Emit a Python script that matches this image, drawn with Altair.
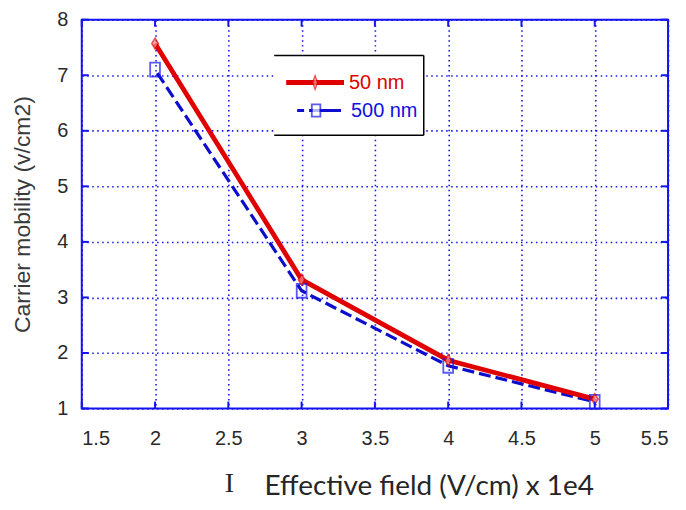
import altair as alt
import pandas as pd

# ---- data ----
field = [2, 3, 4, 5]
mob_50nm = [7.57, 3.32, 1.87, 1.17]
mob_500nm = [7.10, 3.12, 1.77, 1.12]
series = ["50 nm", "500 nm"]
x_ticks = [1.5, 2, 2.5, 3, 3.5, 4, 4.5, 5, 5.5]
y_ticks = [1, 2, 3, 4, 5, 6, 7, 8]
x_title = "Effective field (V/cm) x 1e4"
y_title = "Carrier mobility (v/cm2)"
stray_glyph = "I"

W, H = 588, 390
BLUE = "#1414f0"
RED = "#e00000"
DBLUE = "#0d0dcc"

df = pd.DataFrame({
    "field": field * 2,
    "mobility": mob_50nm + mob_500nm,
    "series": [series[0]] * len(field) + [series[1]] * len(field),
})
d50 = df[df.series == series[0]]
d500 = df[df.series == series[1]]
xt = pd.DataFrame({"tx": x_ticks})
yt = pd.DataFrame({"ty": y_ticks})

xs = alt.Scale(domain=[1.5, 5.5], nice=False, zero=False)
ys = alt.Scale(domain=[1, 8], nice=False, zero=False)

x_axis = alt.Axis(
    values=x_ticks, format="~g", title=x_title, grid=True, ticks=False, domain=False,
    labelPadding=20, labelFontSize=20, labelFont="Liberation Sans", labelColor="#2a2a2a",
    titleFont="Lato", titleFontSize=28, titleFontWeight="normal", titleColor="#262626",
    titleX=348, titleY=86, titleBaseline="alphabetic", titleAlign="center",
)
y_axis = alt.Axis(
    values=y_ticks, grid=True, ticks=False, domain=False,
    labelPadding=14, labelFontSize=20, labelFont="Liberation Sans", labelColor="#2a2a2a",
    title=y_title, titleFont="Liberation Sans", titleFontSize=23, titleFontWeight="normal",
    titleColor="#3a3a3a", titleX=-47, titleY=H / 2, titleAngle=270, titleBaseline="bottom",
    titleAlign="center",
)


def X(f="field"):
    return alt.X(f"{f}:Q", scale=xs, axis=x_axis)


def Y(f="mobility"):
    return alt.Y(f"{f}:Q", scale=ys, axis=y_axis)


line500 = alt.Chart(d500).mark_line(color=DBLUE, strokeWidth=3.2, strokeDash=[12, 5],
                                    strokeDashOffset=-4).encode(x=X(), y=Y())
line50 = alt.Chart(d50).mark_line(color=RED, strokeWidth=4.8).encode(x=X(), y=Y())
rect_path = "M-0.7,-1H0.7V1H-0.7Z"
diamond_path = "M0,-1L0.6,0L0,1L-0.6,0Z"
pts500 = alt.Chart(d500).mark_point(shape=rect_path, size=196, color=BLUE, filled=False,
                                    strokeWidth=1.8).encode(x=X(), y=Y())
pts50 = alt.Chart(d50).mark_point(shape=diamond_path, size=120, color=RED, fill="#ff9090",
                                  filled=True, stroke=RED, strokeWidth=1.5).encode(x=X(), y=Y())

# inward ticks on all four sides
tick_style = dict(color=BLUE, strokeWidth=2)
xb = alt.Chart(xt).mark_rule(**tick_style).encode(
    x=X("tx"), y=alt.value(H - 7), y2=alt.value(H))
xtp = alt.Chart(xt).mark_rule(**tick_style).encode(
    x=X("tx"), y=alt.value(0), y2=alt.value(7))
yl = alt.Chart(yt).mark_rule(**tick_style).encode(
    y=Y("ty"), x=alt.value(0), x2=alt.value(7))
yr = alt.Chart(yt).mark_rule(**tick_style).encode(
    y=Y("ty"), x=alt.value(W - 7), x2=alt.value(W))

# legend box
one = pd.DataFrame({"k": [0]})
box_bg = alt.Chart(one).mark_rect(color="white").encode(
    x=alt.value(193), x2=alt.value(343), y=alt.value(36), y2=alt.value(116))
box_top = alt.Chart(one).mark_rule(color="black", strokeWidth=1.5).encode(
    x=alt.value(193), x2=alt.value(343), y=alt.value(36))
box_bot = alt.Chart(one).mark_rule(color="black", strokeWidth=1.5).encode(
    x=alt.value(193), x2=alt.value(343), y=alt.value(116))
box_right = alt.Chart(one).mark_rule(color="black", strokeWidth=1.5).encode(
    x=alt.value(343), y=alt.value(36), y2=alt.value(116))
leg_red_line = alt.Chart(one).mark_rule(color=RED, strokeWidth=4.8).encode(
    x=alt.value(205), x2=alt.value(263), y=alt.value(63))
leg_red_pt = alt.Chart(one).mark_point(shape="M0,-1L0.35,0L0,1L-0.35,0Z", size=200, color=RED,
                                       fill="#ff9090", filled=True, stroke=RED,
                                       strokeWidth=1.2).encode(x=alt.value(234), y=alt.value(63))
leg_blue_line = alt.Chart(one).mark_rule(color=DBLUE, strokeWidth=3, strokeDash=[7, 5, 60, 1]).encode(
    x=alt.value(216), x2=alt.value(260), y=alt.value(91))
leg_blue_pt = alt.Chart(one).mark_point(shape=rect_path, size=150, color=BLUE, fill="white",
                                        filled=True, stroke=BLUE, strokeWidth=1.8).encode(
    x=alt.value(235), y=alt.value(91))
leg_t1 = alt.Chart(one).mark_text(text=series[0], color=RED, fontSize=20, font="Liberation Sans",
                                  align="left", baseline="middle").encode(
    x=alt.value(268), y=alt.value(64))
leg_t2 = alt.Chart(one).mark_text(text=series[1], color="#1010e0", fontSize=20,
                                  font="Liberation Sans", align="left", baseline="middle").encode(
    x=alt.value(270), y=alt.value(92))
glyph = alt.Chart(one).mark_text(text=stray_glyph, color="#262626", fontSize=28,
                                 font="Liberation Serif", align="center",
                                 baseline="alphabetic").encode(x=alt.value(148), y=alt.value(474))

chart = alt.layer(
    line500, line50, pts500, pts50, xb, xtp, yl, yr,
    box_bg, box_top, box_bot, box_right,
    leg_red_line, leg_red_pt, leg_blue_line, leg_blue_pt, leg_t1, leg_t2, glyph,
).properties(
    width=W, height=H,
    autosize=alt.AutoSizeParams(type="none"),
    padding={"left": 74, "top": 11, "right": 10, "bottom": 92},
    background="white",
).configure_view(
    stroke=BLUE, strokeWidth=2,
).configure_axis(
    gridColor=BLUE, gridDash=[1.5, 3.5], gridWidth=1.6, gridOpacity=1,
)

chart.save("out.html", embed_options={"renderer": "svg", "actions": False})
